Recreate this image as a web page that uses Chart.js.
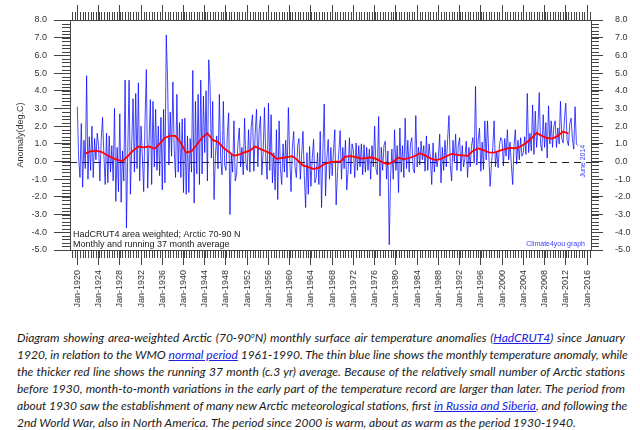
<!DOCTYPE html>
<html>
<head>
<meta charset="utf-8">
<script src="https://cdn.jsdelivr.net/npm/chart.js@4/dist/chart.umd.min.js"></script>
<style>
  body { margin: 0; background: #fff; width: 640px; height: 430px; overflow: hidden; position: relative; }
  #chart { position: absolute; left: 0; top: 0; }
  #cap { position: absolute; left: 17px; top: 329px; width: 608px; font-family: Lato, "Open Sans", sans-serif; font-style: italic; font-size: 12px; color: #1a1a1a; }
  #cap .l { white-space: nowrap; text-align: justify; text-align-last: justify; height: 17px; line-height: 17px; overflow: visible; }
  #cap .l.last { text-align-last: left; }
  #cap sup { font-size: 7px; line-height: 0; vertical-align: 4px; }
  #cap a { color: #2020e0; text-decoration: underline; }
</style>
</head>
<body>
<canvas id="chart" width="640" height="320"></canvas>
<div id="cap">
  <div class="l">Diagram showing area-weighted Arctic (70-90<sup>o</sup>N) monthly surface air temperature anomalies (<a>HadCRUT4</a>) since January</div>
  <div class="l">1920, in relation to the WMO <a>normal period</a> 1961-1990. The thin blue line shows the monthly temperature anomaly, while</div>
  <div class="l">the thicker red line shows the running 37 month (c.3 yr) average. Because of the relatively small number of Arctic stations</div>
  <div class="l">before 1930, month-to-month variations in the early part of the temperature record are larger than later. The period from</div>
  <div class="l">about 1930 saw the establishment of many new Arctic meteorological stations, first <a>in Russia and Siberia</a>, and following the</div>
  <div class="l last">2nd World War, also in North America. The period since 2000 is warm, about as warm as the period 1930-1940.</div>
</div>
<script>
'use strict';

// 月次アノマリー（図から読み取り、3か月ごと）1920年1月から2014年6月まで
const anomalyStart = 1920;
const anomalyStep = 0.25;
const anomaly = [
  3.1, 0.2, -0.9, 2.15,     // 1920
  -1.45, 1.2, -0.4, 4.85,   // 1921
  -1.0, 1.4, -0.5, 2.0,
  -0.9, 1.3, 0.1, 1.6,
  0.9, -1.1, 1.2, 2.5,
  0.4, -1.3, 1.6, -1.2,     // 1925
  1.45, -0.6, 0.9, -1.1,
  3.0, -2.25, 0.8, -1.7,
  2.7, -2.3, 0.6, -1.1,
  4.6, -3.75, 0.5, 4.6,
  -1.85, 1.0, 3.55, -0.6,   // 1930
  3.85, -0.4, 4.45, -1.1,
  2.0, 0.3, -1.7, 2.3,
  5.2, -1.5, 1.0, 3.5,
  -1.3, 3.4, -0.3, 2.95,
  -0.5, 2.0, -0.8, 2.5,     // 1935
  -1.6, 2.95, -1.2, 7.15,
  4.6, -0.2, 2.8, 0.3,
  4.5, 0.6, -0.9, 3.8,
  -0.6, 2.2, -0.9, 2.4,
  -1.75, 2.45, -1.85, 1.45, // 1940
  -1.75, 1.3, -0.6, 5.15,
  -2.35, 3.4, -0.7, 3.8,
  -1.3, 4.6, -0.7, 3.7,
  0.5, 4.0, -1.1, 5.75,
  4.3, 0.2, 3.4, -2.15,     // 1945
  0.3, 1.45, -0.4, 3.8,
  0.2, -0.75, 3.4, -0.2,
  -0.5, 1.5, 2.75, -3.0,
  0.4, -0.6, 2.3, -1.1,
  -0.7, 1.0, 1.9, -0.3,     // 1950
  0.8, -0.75, 2.45, -0.1,
  -0.5, 1.8, -0.6, 2.0,
  2.65, -0.55, 1.6, 2.95,
  -0.3, 1.8, 2.55, -0.75,
  0.5, 3.05, 0.2, -1.0,     // 1955
  3.3, -0.5, 2.65, -1.2,
  0.5, -1.6, 1.8, -2.15,
  2.3, -0.4, -1.3, 1.0,
  -0.6, 1.2, -0.9, 3.05,
  0.3, -1.7, 0.8, 1.7,      // 1960
  -0.3, -0.9, 0.9, 1.3,
  -1.0, 0.4, 1.7, -0.8,
  -2.6, 0.5, -1.85, 0.85,
  -1.4, 0.2, 1.25, -1.2,
  -0.9, 0.5, -1.3, 1.7,     // 1965
  -2.6, 0.6, 3.25, -1.95,
  0.2, 1.25, -1.0, 0.8,
  -0.8, 0.6, 1.8, -2.45,
  -0.6, 0.5, 1.75, -1.0,
  0.8, -0.4, 1.2, -1.6,     // 1970
  -0.5, 1.35, -0.7, 1.0,
  0.6, -0.9, 1.05, -0.5,
  0.9, -0.3, 1.0, -0.75,
  0.95, -0.6, 0.8, -0.5,
  0.7, -1.0, 0.9, -0.3,     // 1975
  2.0, -0.4, -0.75, 2.55,
  -1.95, 0.8, -0.5, 0.9,
  1.15, -1.0, 0.6, -4.7,
  -0.8, 0.7, -1.0, 1.8,
  -0.5, 0.9, -1.75, 1.9,    // 1980
  -0.6, 0.9, -0.9, 2.45,
  -0.4, 1.2, -0.6, 1.0,
  1.35, -0.4, -0.65, 2.6,
  -0.3, 0.8, -0.2, 1.15,
  0.1, 0.9, -0.55, 1.45,    // 1985
  -0.5, 1.0, 0.2, -1.3,
  1.05, -0.6, 0.5, -0.3,
  0.2, 1.55, -1.2, 0.8,
  -0.5, 1.2, -0.3, 1.3,
  2.6, -0.2, -1.1, 1.2,     // 1990
  0.0, 1.55, -0.5, 0.9,
  1.35, -0.55, 0.9, -0.3,
  0.2, 1.15, -0.9, 0.8,
  -0.3, 0.9, 1.35, -0.1,
  4.25, -0.2, 1.2, 1.9,     // 1995
  -0.55, 1.1, -0.45, 2.3,
  0.1, 2.3, 0.4, -1.4,
  -0.2, 0.8, 2.3, -0.3,
  0.6, -0.35, 0.9, 1.35,
  1.2, -0.25, 1.3, 0.3,     // 2000
  1.8, 0.1, 1.1, -0.2,
  -1.3, 0.9, 1.8, -0.15,
  1.2, 0.1, 1.35, 0.3,
  0.5, 1.4, 0.4, 3.85,
  0.5, 1.6, 0.6, 3.2,       // 2005
  0.4, 2.85, 0.8, 1.9,
  3.9, 1.0, 0.6, 2.65,
  0.8, 2.2, 0.2, 3.15,
  1.0, 2.3, 0.8, 2.0,
  2.3, 0.8, 1.9, 1.0,       // 2010
  3.4, 1.3, 1.05, 2.4,
  3.3, 1.2, 0.9, 2.1,
  2.45, 1.3, 0.7, 3.1,
  1.0, 0.9                  // 2014
];

// 37か月移動平均（赤線）1921年中頃から2012年中頃まで、1年ごと
const meanStart = 1921.5;
const meanStep = 1;
const runningMean = [
  0.45, 0.58, 0.62, 0.55, 0.38, 0.22, 0.1, 0.02, 0.3,        // 1921-1929
  0.62, 0.85, 0.8, 0.85, 0.72, 1.0, 1.35, 1.45, 1.45, 1.05,  // 1930-
  0.5, 0.58, 0.95, 1.35, 1.6, 1.22, 1.1, 0.78, 0.55, 0.32,   // 1940-
  0.4, 0.52, 0.62, 0.85, 0.7, 0.58, 0.45, 0.15, 0.2, 0.25,   // 1950-
  0.3, 0.08, -0.22, -0.32, -0.42, -0.35, -0.15, -0.05, 0.0, 0.0, // 1960-
  0.28, 0.3, 0.25, 0.17, 0.2, 0.24, 0.12, -0.05, -0.15, 0.0, // 1970-
  0.22, 0.12, 0.2, 0.3, 0.47, 0.35, 0.18, 0.08, 0.15, 0.3,   // 1980-
  0.43, 0.38, 0.35, 0.32, 0.6, 0.74, 0.65, 0.52, 0.5, 0.6,   // 1990-
  0.7, 0.77, 0.75, 0.85, 1.05, 1.3, 1.62, 1.45, 1.33, 1.3,   // 2000-
  1.45, 1.7, 1.58                                            // 2010-2012
];

// 目盛り
const xMajorYears = [1920, 1924, 1928, 1932, 1936, 1940, 1944, 1948, 1952, 1956, 1960, 1964, 1968,
  1972, 1976, 1980, 1984, 1988, 1992, 1996, 2000, 2004, 2008, 2012, 2016];
const yMajor = [-5, -4, -3, -2, -1, 0, 1, 2, 3, 4, 5, 6, 7, 8];
const xMin = 1918.62, xMax = 2016.75;

const axisColor = '#444';
const labelFont = { family: '"Liberation Sans", Arial, sans-serif', size: 9 };

// 小目盛りや注記など、Chart.jsの軸では描けないもの
const extras = {
  id: 'extras',
  beforeDatasetsDraw(chart) {
    const { ctx, chartArea: a, scales } = chart;
    const y0 = Math.round(scales.y.getPixelForValue(0)) + 0.5;
    ctx.save();
    ctx.strokeStyle = '#222';
    ctx.lineWidth = 1;
    ctx.setLineDash([7, 5]);
    ctx.beginPath();
    ctx.moveTo(a.left, y0);
    ctx.lineTo(a.right, y0);
    ctx.stroke();
    ctx.restore();
  },
  afterDraw(chart) {
    const { ctx, chartArea: a, scales } = chart;
    ctx.save();
    ctx.strokeStyle = axisColor;
    ctx.lineWidth = 1;
    ctx.beginPath();
    for (let v = 1919; v <= xMax; v += 0.5) {
      const px = Math.round(scales.x.getPixelForValue(v)) + 0.5;
      ctx.moveTo(px, a.bottom); ctx.lineTo(px, a.bottom + 8);
      ctx.moveTo(px, a.top); ctx.lineTo(px, a.top - 8);
    }
    for (let i = 0; i <= 65; i++) {
      const v = -5 + i * 0.2;
      const py = Math.round(scales.y.getPixelForValue(v)) + 0.5;
      ctx.moveTo(a.left - 8, py); ctx.lineTo(a.left, py);
      ctx.moveTo(a.right, py); ctx.lineTo(a.right + 8, py);
    }
    ctx.stroke();

    // 左下の説明
    ctx.fillStyle = '#222';
    ctx.font = '9px "Liberation Sans", Arial, sans-serif';
    ctx.textBaseline = 'middle';
    ctx.textAlign = 'left';
    ctx.fillText('HadCRUT4 area weighted; Arctic 70-90 N', a.left + 3, a.bottom - 15);
    ctx.fillText('Monthly and running 37 month average', a.left + 3, a.bottom - 5);

    // 右下のクレジットと日付
    ctx.fillStyle = '#3a3aff';
    ctx.font = '7px "Liberation Sans", Arial, sans-serif';
    ctx.textAlign = 'right';
    ctx.fillText('Climate4you graph', a.right - 6, a.bottom - 6);
    ctx.translate(a.right - 8, scales.y.getPixelForValue(-0.9));
    ctx.rotate(-Math.PI / 2);
    ctx.textAlign = 'left';
    ctx.fillText('June 2014', 0, 0);
    ctx.restore();
  }
};

const setTicks = (vals) => (scale) => { scale.ticks = vals.map(v => ({ value: v })); };

new Chart(document.getElementById('chart'), {
  type: 'line',
  data: {
    datasets: [
      {
        label: 'Monthly',
        data: anomaly.map((v, i) => ({ x: anomalyStart + i * anomalyStep, y: v })),
        borderColor: 'rgba(0, 0, 255, 0.72)',
        borderWidth: 1,
        pointRadius: 0,
        tension: 0,
        order: 2
      },
      {
        label: '37 month average',
        data: runningMean.map((v, i) => ({ x: meanStart + i * meanStep, y: v })),
        borderColor: '#ff0000',
        borderWidth: 1.8,
        pointRadius: 0,
        tension: 0,
        order: 1
      }
    ]
  },
  options: {
    responsive: false,
    animation: false,
    devicePixelRatio: 1,
    layout: { padding: 0 },
    plugins: { legend: { display: false }, tooltip: { enabled: false } },
    scales: {
      x: {
        type: 'linear', position: 'bottom', min: xMin, max: xMax,
        afterBuildTicks: setTicks(xMajorYears),
        afterFit: (s) => { s.height = 70; },
        ticks: {
          callback: (v) => 'Jan-' + v, minRotation: 90, maxRotation: 90, autoSkip: false,
          font: labelFont, color: '#333', padding: 5
        },
        grid: { drawOnChartArea: false, tickLength: 15, tickColor: axisColor },
        border: { color: axisColor, width: 1 }
      },
      x2: {
        type: 'linear', position: 'top', min: xMin, max: xMax,
        afterBuildTicks: setTicks(xMajorYears),
        afterFit: (s) => { s.height = 20; },
        ticks: { display: false },
        grid: { drawOnChartArea: false, tickLength: 15, tickColor: axisColor },
        border: { color: axisColor, width: 1 }
      },
      y: {
        type: 'linear', position: 'left', min: -5, max: 8,
        afterBuildTicks: setTicks(yMajor),
        afterFit: (s) => { s.width = 70; },
        ticks: { callback: (v) => v.toFixed(1), font: labelFont, color: '#333', padding: 7 },
        grid: { drawOnChartArea: false, tickLength: 16, tickColor: axisColor },
        border: { color: axisColor, width: 1 },
        title: { display: true, text: 'Anomaly(deg.C)', font: labelFont, color: '#333', padding: { top: 15, bottom: 0 } }
      },
      y2: {
        type: 'linear', position: 'right', min: -5, max: 8,
        afterBuildTicks: setTicks(yMajor),
        afterFit: (s) => { s.width = 49; },
        ticks: { callback: (v) => v.toFixed(1), font: labelFont, color: '#333', padding: 12 },
        grid: { drawOnChartArea: false, tickLength: 12, tickColor: axisColor },
        border: { color: axisColor, width: 1 }
      }
    }
  },
  plugins: [extras]
});
</script>
</body>
</html>
